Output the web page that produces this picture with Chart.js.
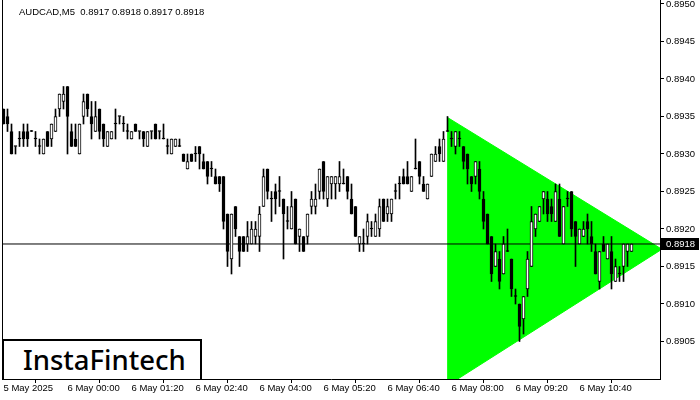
<!DOCTYPE html>
<html>
<head>
<meta charset="utf-8">
<script src="https://cdn.jsdelivr.net/npm/chart.js@4.4.1/dist/chart.umd.min.js"></script>
<style>
html,body{margin:0;padding:0;background:#fff;}
#wrap{position:relative;width:700px;height:400px;overflow:hidden;}
#c{position:absolute;left:0;top:0;}
#hdr{position:absolute;left:19px;top:6px;font:9.5px 'Liberation Sans',Arial,sans-serif;color:#000;white-space:pre;line-height:12px;}
#logo{position:absolute;left:2px;top:339px;width:196px;height:38px;border:2px solid #000;border-bottom:none;background:#fff;
  font:500 27.5px 'Noto Sans',sans-serif;color:#000;line-height:38px;}
#logo span{position:absolute;left:19px;top:0;}
</style>
</head>
<body>
<div id="wrap">
<canvas id="c" width="700" height="400"></canvas>
<div id="hdr">AUDCAD,M5  0.8917 0.8918 0.8917 0.8918</div>
<div id="logo"><span>InstaFintech</span></div>
</div>
<script>
// ---- data ----
const opens = [0.8936,0.8935,0.8933,0.8931,0.8932,0.8933,0.8933,0.8933,0.8932,0.8931,
0.8930,0.8933,0.8932,0.8933,0.8936,0.8937,0.8939,0.8933,0.8932,0.8930,
0.8935,0.8938,0.8935,0.8933,0.8936,0.8934,0.8931,0.8932,0.8934,0.8935,
0.8934,0.8933,0.8932,0.8934,0.8933,0.8933,0.8931,0.8933,0.8934,0.8933,
0.8932,0.8931,0.8930,0.8931,0.8931,0.8930,0.8928,0.8930,0.8930,0.8931,
0.8929,0.8929,0.8928,0.8927,0.8927,0.8927,0.8922,0.8916,0.8923,0.8919,
0.8919,0.8918,0.8918,0.8919,0.8919,0.8923,0.8928,0.8924,0.8925,0.8925,
0.8924,0.8921,0.8920,0.8924,0.8919,0.8919,0.8919,0.8923,0.8923,0.8925,
0.8929,0.8924,0.8926,0.8926,0.8926,0.8926,0.8927,0.8924,0.8923,0.8918,
0.8918,0.8919,0.8920,0.8919,0.8920,0.8924,0.8922,0.8922,0.8925,0.8926,
0.8927,0.8927,0.8925,0.8928,0.8929,0.8926,0.8924,0.8927,0.8929,0.8931,
0.8929,0.8933,0.8932,0.8931,0.8932,0.8931,0.8930,0.8927,0.8927,0.8928,
0.8924,0.8922,0.8919,0.8915,0.8916,0.8914,0.8917,0.8916,0.8911,0.8910,
0.8908,0.8912,0.8915,0.8920,0.8921,0.8924,0.8924,0.8923,0.8921,0.8924,
0.8918,0.8924,0.8925,0.8921,0.8918,0.8919,0.8921,0.8919,0.8917,0.8913,
0.8918,0.8916,0.8917,0.8913,0.8914,0.8915,0.8917,0.8917];
const highs = [0.8936,0.8936,0.8934,0.8931,0.8933,0.8934,0.8934,0.8933,0.8933,0.8932,
0.8932,0.8933,0.8934,0.8936,0.8938,0.8939,0.8939,0.8934,0.8934,0.8934,
0.8938,0.8938,0.8937,0.8937,0.8936,0.8934,0.8933,0.8933,0.8936,0.8935,
0.8935,0.8934,0.8933,0.8934,0.8933,0.8933,0.8933,0.8933,0.8934,0.8933,
0.8934,0.8932,0.8932,0.8932,0.8932,0.8930,0.8930,0.8930,0.8931,0.8931,
0.8930,0.8929,0.8929,0.8928,0.8927,0.8927,0.8922,0.8922,0.8923,0.8919,
0.8919,0.8921,0.8921,0.8921,0.8923,0.8928,0.8928,0.8925,0.8926,0.8927,
0.8924,0.8923,0.8925,0.8924,0.8920,0.8919,0.8922,0.8925,0.8926,0.8928,
0.8929,0.8927,0.8927,0.8927,0.8929,0.8928,0.8927,0.8926,0.8923,0.8919,
0.8920,0.8922,0.8921,0.8922,0.8924,0.8924,0.8924,0.8924,0.8926,0.8927,
0.8928,0.8929,0.8927,0.8932,0.8929,0.8927,0.8926,0.8930,0.8931,0.8932,
0.8933,0.8935,0.8933,0.8933,0.8933,0.8931,0.8930,0.8927,0.8929,0.8929,
0.8925,0.8922,0.8919,0.8918,0.8917,0.8919,0.8920,0.8916,0.8912,0.8910,
0.8911,0.8917,0.8923,0.8922,0.8923,0.8925,0.8925,0.8924,0.8926,0.8926,
0.8923,0.8925,0.8925,0.8921,0.8920,0.8921,0.8922,0.8921,0.8918,0.8917,
0.8919,0.8918,0.8919,0.8916,0.8915,0.8918,0.8918,0.8918];
const lows = [0.8934,0.8933,0.8930,0.8930,0.8931,0.8931,0.8931,0.8933,0.8931,0.8930,
0.8930,0.8931,0.8931,0.8933,0.8935,0.8936,0.8930,0.8931,0.8931,0.8930,
0.8934,0.8935,0.8932,0.8933,0.8932,0.8931,0.8931,0.8932,0.8932,0.8934,
0.8933,0.8932,0.8932,0.8933,0.8932,0.8931,0.8931,0.8932,0.8932,0.8932,
0.8932,0.8930,0.8930,0.8931,0.8931,0.8929,0.8928,0.8929,0.8929,0.8928,
0.8928,0.8926,0.8927,0.8926,0.8925,0.8920,0.8915,0.8914,0.8919,0.8915,
0.8917,0.8917,0.8918,0.8918,0.8917,0.8923,0.8924,0.8921,0.8922,0.8923,
0.8916,0.8920,0.8920,0.8918,0.8917,0.8917,0.8918,0.8922,0.8922,0.8924,
0.8924,0.8923,0.8924,0.8924,0.8925,0.8926,0.8924,0.8922,0.8919,0.8917,
0.8917,0.8918,0.8919,0.8919,0.8919,0.8921,0.8921,0.8921,0.8924,0.8924,
0.8926,0.8926,0.8925,0.8928,0.8926,0.8925,0.8924,0.8927,0.8929,0.8929,
0.8929,0.8933,0.8931,0.8930,0.8931,0.8928,0.8926,0.8925,0.8926,0.8924,
0.8920,0.8918,0.8913,0.8915,0.8912,0.8914,0.8917,0.8911,0.8910,0.8905,
0.8906,0.8911,0.8915,0.8919,0.8921,0.8922,0.8921,0.8921,0.8921,0.8919,
0.8918,0.8923,0.8919,0.8915,0.8918,0.8919,0.8918,0.8917,0.8914,0.8912,
0.8917,0.8916,0.8912,0.8913,0.8913,0.8913,0.8915,0.8917];
const closes = [0.8934,0.8934,0.8930,0.8931,0.8932,0.8932,0.8932,0.8933,0.8932,0.8931,
0.8932,0.8931,0.8934,0.8935,0.8938,0.8938,0.8935,0.8931,0.8931,0.8934,
0.8937,0.8936,0.8934,0.8935,0.8933,0.8932,0.8933,0.8933,0.8934,0.8935,
0.8934,0.8933,0.8933,0.8933,0.8933,0.8932,0.8933,0.8933,0.8932,0.8933,
0.8932,0.8931,0.8932,0.8932,0.8931,0.8929,0.8929,0.8929,0.8930,0.8930,
0.8928,0.8927,0.8928,0.8926,0.8926,0.8921,0.8917,0.8922,0.8920,0.8917,
0.8917,0.8919,0.8920,0.8920,0.8922,0.8927,0.8925,0.8924,0.8924,0.8925,
0.8922,0.8921,0.8923,0.8918,0.8920,0.8917,0.8922,0.8924,0.8924,0.8928,
0.8925,0.8927,0.8927,0.8927,0.8927,0.8926,0.8925,0.8922,0.8919,0.8919,
0.8918,0.8921,0.8920,0.8921,0.8923,0.8921,0.8923,0.8924,0.8925,0.8926,
0.8926,0.8926,0.8927,0.8928,0.8927,0.8925,0.8926,0.8930,0.8930,0.8930,
0.8932,0.8933,0.8932,0.8933,0.8932,0.8929,0.8928,0.8926,0.8929,0.8925,
0.8921,0.8918,0.8914,0.8917,0.8913,0.8918,0.8917,0.8912,0.8911,0.8907,
0.8911,0.8916,0.8921,0.8922,0.8923,0.8925,0.8922,0.8922,0.8925,0.8919,
0.8923,0.8924,0.8920,0.8919,0.8920,0.8920,0.8920,0.8918,0.8914,0.8917,
0.8917,0.8918,0.8914,0.8915,0.8914,0.8918,0.8918,0.8918];
// time-axis labels and the bar index each belongs to
const timeLabels = ['5 May 2025','6 May 00:00','6 May 01:20','6 May 02:40','6 May 04:00','6 May 05:20','6 May 06:40','6 May 08:00','6 May 09:20','6 May 10:40'];
const timeLabelBars = [0,16,32,48,64,80,96,112,128,144];
// price-axis tick values
const priceTicks = [0.8905,0.8910,0.8915,0.8920,0.8925,0.8930,0.8935,0.8940,0.8945,0.8950];
// symmetrical triangle pattern (bar index / price)
const patternStartBar = 110.9;
const patternUpperPrice = 0.89349;
const patternLowerPrice = 0.88991;
const patternApexBar = 164.6;
const patternApexPrice = 0.89173;

// ---- chart ----
const lastPrice = closes[closes.length - 1];
const xMin = -0.375, xMax = 164.125;
const bodyColors = opens.map((o, i) => closes[i] > o ? '#ffffff' : '#000000');
const axisFont = { family: "'Liberation Sans', Arial, sans-serif", size: 9.5 };

const framePlugin = {
  id: 'frame',
  afterDraw(chart) {
    const {ctx, chartArea, scales} = chart;
    ctx.save();
    ctx.strokeStyle = '#000';
    ctx.lineWidth = 1;
    ctx.beginPath();
    ctx.moveTo(chartArea.left + 0.5, 0);
    ctx.lineTo(chartArea.left + 0.5, chartArea.bottom);
    ctx.stroke();
    const y = Math.round(scales.y.getPixelForValue(lastPrice));
    ctx.fillStyle = '#000';
    ctx.fillRect(chartArea.right + 1, y - 6, 38, 12);
    ctx.fillStyle = '#fff';
    ctx.font = "9.5px 'Liberation Sans', Arial, sans-serif";
    ctx.textBaseline = 'middle';
    ctx.textAlign = 'left';
    ctx.fillText(lastPrice.toFixed(4), chartArea.right + 6, y + 0.5);
    ctx.restore();
  }
};

new Chart(document.getElementById('c'), {
  type: 'bar',
  data: {
    datasets: [
      { type: 'line', label: 'upper', data: [{x: patternStartBar, y: patternUpperPrice}, {x: patternApexBar, y: patternApexPrice}],
        borderColor: '#00ff00', borderWidth: 1, pointRadius: 0, fill: false, order: 10 },
      { type: 'line', label: 'lower', data: [{x: patternStartBar, y: patternLowerPrice}, {x: patternApexBar, y: patternApexPrice}],
        borderColor: '#00ff00', borderWidth: 1, pointRadius: 0, fill: '-1', backgroundColor: '#00ff00', order: 9 },
      { type: 'line', label: 'bid', data: [{x: xMin, y: lastPrice}, {x: xMax, y: lastPrice}],
        borderColor: '#000', borderWidth: 1, pointRadius: 0, fill: false, order: 5 },
      { label: 'wick', data: opens.map((o, i) => ({x: i, y: [lows[i], highs[i]]})),
        barThickness: 1, backgroundColor: '#000', borderWidth: 0, grouped: false, minBarLength: 1, order: 2 },
      { label: 'body', data: opens.map((o, i) => ({x: i, y: [o, closes[i]]})),
        barThickness: 3, backgroundColor: bodyColors, borderColor: '#000', borderWidth: 1, borderSkipped: false,
        grouped: false, minBarLength: 1, order: 1 }
    ]
  },
  options: {
    responsive: false,
    animation: false,
    devicePixelRatio: 1,
    layout: { padding: { left: 2, top: 0, right: 0, bottom: 0 } },
    plugins: { legend: { display: false }, tooltip: { enabled: false } },
    scales: {
      x: {
        type: 'linear', min: xMin, max: xMax, offset: false,
        grid: { display: true, drawOnChartArea: false, drawTicks: true, tickLength: 4, color: '#000' },
        border: { display: true, color: '#000', width: 1 },
        ticks: { align: 'start', padding: 0, color: '#000', maxRotation: 0, autoSkip: false, font: axisFont,
          callback: (v) => { const k = timeLabelBars.indexOf(v); return k >= 0 ? timeLabels[k] : ''; } },
        afterBuildTicks: (s) => { s.ticks = timeLabelBars.map(v => ({value: v})); },
        afterFit: (s) => { s.height = 21; s.paddingLeft = 0; s.paddingRight = 0; }
      },
      y: {
        type: 'linear', position: 'right', min: 0.8900, max: 0.8950533,
        grid: { display: true, drawOnChartArea: false, drawTicks: true, tickLength: 4, color: '#000' },
        border: { display: true, color: '#000', width: 1 },
        ticks: { padding: 2, color: '#000', font: axisFont, callback: (v) => v.toFixed(4) },
        afterBuildTicks: (s) => { s.ticks = priceTicks.map(v => ({value: v})); },
        afterFit: (s) => { s.width = 40; s.paddingTop = 0; s.paddingBottom = 0; }
      }
    }
  },
  plugins: [framePlugin]
});
</script>
</body>
</html>
